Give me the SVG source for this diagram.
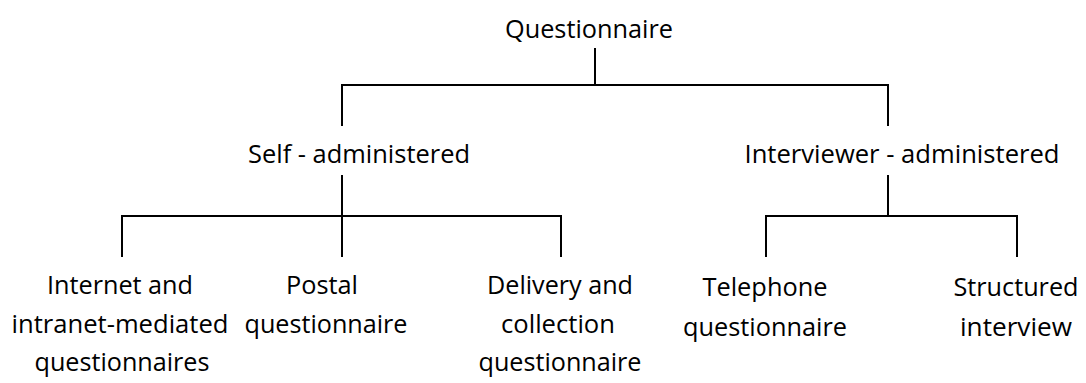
<svg xmlns="http://www.w3.org/2000/svg" width="1086" height="383" viewBox="0 0 1086 383">
<style>
text{font-family:"Open Sans","Noto Sans","Liberation Sans",sans-serif;font-size:25px;fill:#000;text-anchor:middle}
.c{fill:none;stroke:#000;stroke-width:2}
</style>
<rect width="1086" height="383" fill="#fff"/>
<g id="connectors">
<path class="c" d="M595 48V85M342 126V85H888V126"/>
<path class="c" d="M342 175V216M122 257V216H561V257M342 216V257"/>
<path class="c" d="M888 175V216M766 257V216H1017V257"/>
</g>
<g id="n-questionnaire"><text x="589" y="38" textLength="168" lengthAdjust="spacingAndGlyphs">Questionnaire</text></g>
<g id="n-self"><text x="359" y="163" textLength="222" lengthAdjust="spacingAndGlyphs">Self - administered</text></g>
<g id="n-interviewer"><text x="902" y="163" textLength="315" lengthAdjust="spacingAndGlyphs">Interviewer - administered</text></g>
<g id="n-internet"><text x="120" y="294" textLength="146" lengthAdjust="spacingAndGlyphs">Internet and</text><text x="120" y="333" textLength="217" lengthAdjust="spacingAndGlyphs">intranet-mediated</text><text x="122" y="371" textLength="175" lengthAdjust="spacingAndGlyphs">questionnaires</text></g>
<g id="n-postal"><text x="322" y="294" textLength="72" lengthAdjust="spacingAndGlyphs">Postal</text><text x="326" y="333" textLength="163" lengthAdjust="spacingAndGlyphs">questionnaire</text></g>
<g id="n-delivery"><text x="560" y="294" textLength="146" lengthAdjust="spacingAndGlyphs">Delivery and</text><text x="558" y="333" textLength="114" lengthAdjust="spacingAndGlyphs">collection</text><text x="560" y="371" textLength="163" lengthAdjust="spacingAndGlyphs">questionnaire</text></g>
<g id="n-telephone"><text x="765" y="296" textLength="125" lengthAdjust="spacingAndGlyphs">Telephone</text><text x="765" y="336" textLength="164" lengthAdjust="spacingAndGlyphs">questionnaire</text></g>
<g id="n-structured"><text x="1016" y="296" textLength="125" lengthAdjust="spacingAndGlyphs">Structured</text><text x="1016" y="336" textLength="112" lengthAdjust="spacingAndGlyphs">interview</text></g>
</svg>
